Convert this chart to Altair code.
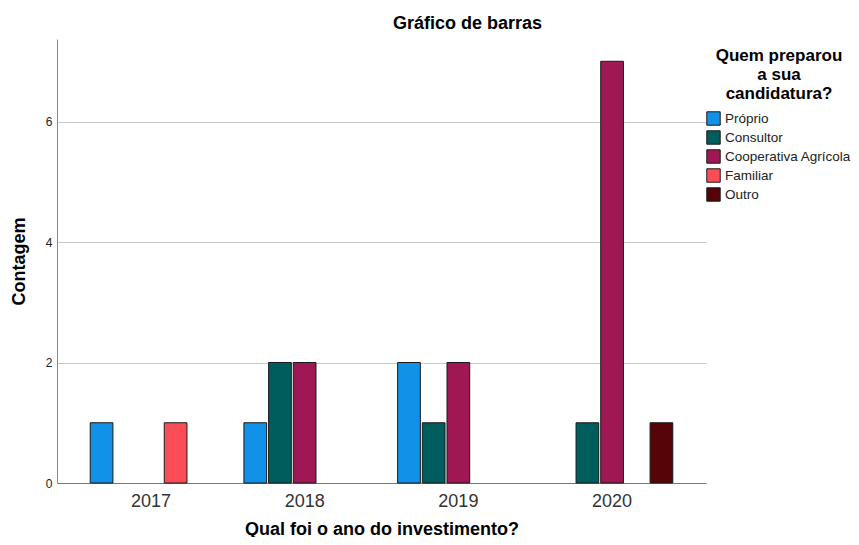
import altair as alt
import pandas as pd

years = ["2017", "2018", "2019", "2020"]
categories = ["Próprio", "Consultor", "Cooperativa Agrícola", "Familiar", "Outro"]
colors = ["#1192e8", "#005d5d", "#9f1853", "#fa4d56", "#570408"]

# counts per year, one list per category (order of categories)
proprio = [1, 1, 2, 0]
consultor = [0, 2, 1, 1]
cooperativa = [0, 2, 2, 7]
familiar = [1, 0, 0, 0]
outro = [0, 0, 0, 1]

series = [proprio, consultor, cooperativa, familiar, outro]
rows = []
for cat, vals in zip(categories, series):
    for y, v in zip(years, vals):
        if v > 0:
            rows.append({"ano": y, "quem": cat, "contagem": v})
df = pd.DataFrame(rows)

FONT = "Liberation Sans"

bars = alt.Chart(df).mark_bar(stroke="#1a1a1a", strokeWidth=1).encode(
    x=alt.X("ano:N", sort=years,
            scale=alt.Scale(domain=years, paddingInner=0.21, paddingOuter=0.216),
            axis=alt.Axis(title="Qual foi o ano do investimento?", labelAngle=0,
                          ticks=False, grid=False, labelFontSize=18, labelColor="#333333",
                          labelPadding=9, titleFontSize=18, titleFontWeight="bold",
                          titleColor="#000000", titlePadding=10, domainColor="#777777",
                          labelFont=FONT, titleFont=FONT)),
    xOffset=alt.XOffset("quem:N", sort=categories,
                        scale=alt.Scale(domain=categories, paddingInner=0.08, paddingOuter=0)),
    y=alt.Y("contagem:Q",
            scale=alt.Scale(domain=[0, 7.37], nice=False, zero=True),
            axis=alt.Axis(title="Contagem", values=[0, 2, 4, 6], ticks=False, grid=True,
                          gridColor="#c8c8c8", domainColor="#888888", labelFontSize=12,
                          labelColor="#222222", labelPadding=5, titleFontSize=18,
                          titleFontWeight="bold", titleColor="#000000", titlePadding=17,
                          labelFont=FONT, titleFont=FONT)),
    color=alt.Color("quem:N", sort=categories,
                    scale=alt.Scale(domain=categories, range=colors),
                    legend=alt.Legend(title=["Quem preparou", "a sua", "candidatura?"],
                                      orient="none", legendX=649, legendY=9,
                                      titleFontSize=17, titleFontWeight="bold",
                                      titleColor="#000000", titleAnchor="middle",
                                      titleAlign="center", titleLineHeight=19,
                                      titlePadding=8, titleFont=FONT,
                                      symbolType="square", symbolSize=180,
                                      symbolStrokeColor="#1a1a1a", symbolStrokeWidth=1,
                                      symbolOpacity=1,
                                      labelFontSize=13.5, labelColor="#222222",
                                      labelFont=FONT, labelOffset=4, rowPadding=0)),
).properties(
    width=649,
    height=444,
    title=alt.TitleParams("Gráfico de barras", fontSize=18, fontWeight="bold",
                          font=FONT, color="#000000", anchor="middle", dx=86, offset=6),
)

chart = bars.configure_view(stroke=None).properties(
    autosize=alt.AutoSizeParams(type="none"),
    padding={"left": 49, "top": 31, "right": 145, "bottom": 54},
)

chart.save("out.html", embed_options={"renderer": "svg", "actions": False})
